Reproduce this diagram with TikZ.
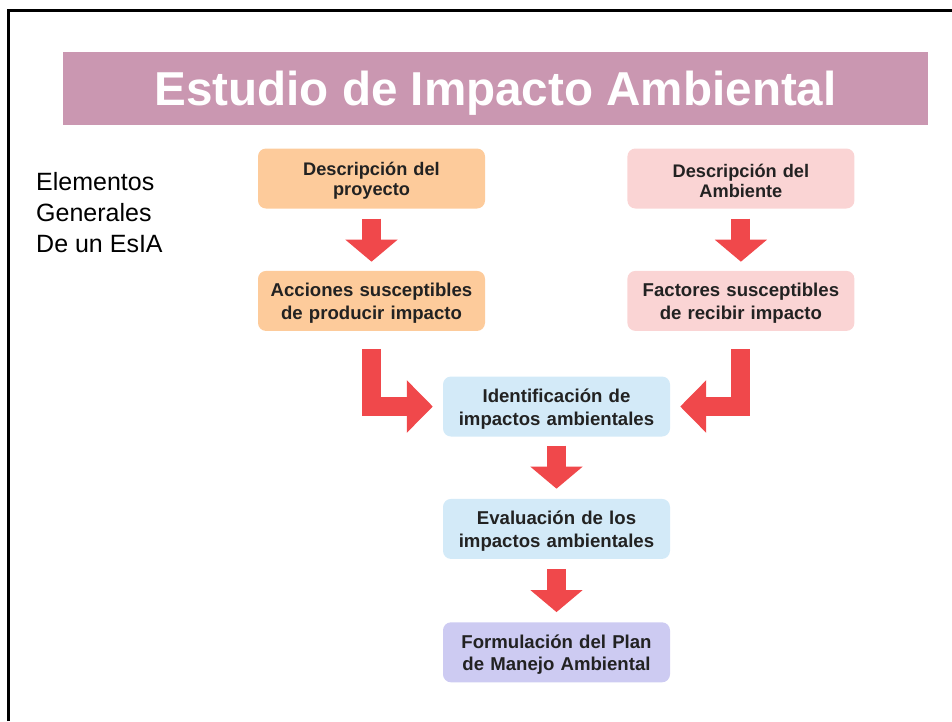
\documentclass[tikz,border=0pt]{standalone}
\usepackage{fontspec}
\setmainfont{Liberation Sans}
\usetikzlibrary{positioning,arrows.meta}
\definecolor{titlebar}{HTML}{CA97B1}
\definecolor{orangebox}{HTML}{FDCB9B}
\definecolor{pinkbox}{HTML}{FAD4D4}
\definecolor{bluebox}{HTML}{D3EAF8}
\definecolor{lilacbox}{HTML}{CDCBF2}
\definecolor{arrowred}{HTML}{F0484B}
\definecolor{boxtext}{HTML}{222222}

\begin{document}
\begin{tikzpicture}[x=1pt,y=-1pt,
    stepbox/.style={rounded corners=8pt, minimum width=227pt, minimum height=60pt,
      text width=220pt, align=center, inner sep=0pt, text=boxtext,
      font=\bfseries\fontsize{18.6}{22.5}\selectfont,
      execute at begin node={\rule{0pt}{18.4pt}}},
    topbox/.style={stepbox, font=\bfseries\fontsize{18.2}{20}\selectfont},
    bigarrow/.style={draw=arrowred, line width=19pt, line join=miter,
      -{Triangle[length=22pt,width=51pt]}}]
  \useasboundingbox (0,0) rectangle (952,721);
  \draw[line width=3pt] (8.7,721) -- (8.7,10.7) -- (952,10.7);
  \node[fill=titlebar, minimum width=865pt, minimum height=73pt, text=white,
    text depth=0pt, font=\bfseries\fontsize{47.6}{50}\selectfont] (title)
    at (495.5,88.5) {Estudio de Impacto Ambiental};
  \node[anchor=north west, align=left, inner sep=0pt,
    font=\fontsize{25}{31}\selectfont] (elementos) at (36,172)
    {Elementos\\Generales\\De un EsIA};
  % columna del proyecto y del ambiente
  \node[topbox, fill=orangebox] (descproy) at (371.5,178.5)
    {Descripción del\\proyecto};
  \node[stepbox, fill=orangebox, below=62pt of descproy] (acciones)
    {Acciones susceptibles\\de producir impacto};
  \node[topbox, fill=pinkbox, right=142pt of descproy] (descamb)
    {Descripción del\\Ambiente};
  \node[stepbox, fill=pinkbox, below=62pt of descamb] (factores)
    {Factores susceptibles\\de recibir impacto};
  % columna central
  \node[stepbox, fill=bluebox] (identif) at (556.5,406.5)
    {Identificación de\\impactos ambientales};
  \node[stepbox, fill=bluebox, below=62pt of identif] (evalua)
    {Evaluación de los\\impactos ambientales};
  \node[stepbox, fill=lilacbox, below=63pt of evalua] (plan)
    {Formulación del Plan\\de Manejo Ambiental};
  % flechas
  \draw[bigarrow, shorten <=10pt, shorten >=9pt] (descproy) -- (acciones);
  \draw[bigarrow, shorten <=10pt, shorten >=9pt] (descamb) -- (factores);
  \draw[bigarrow, -{Triangle[length=26pt,width=51pt]}, shorten <=18pt,
    shorten >=10pt] (acciones.south) -- (acciones.south |- identif.west)
    -- (identif.west);
  \draw[bigarrow, -{Triangle[length=26pt,width=51pt]}, shorten <=18pt,
    shorten >=10pt] (factores.south) -- (factores.south |- identif.east)
    -- (identif.east);
  \draw[bigarrow, shorten <=9pt, shorten >=10pt] (identif) -- (evalua);
  \draw[bigarrow, shorten <=10pt, shorten >=10pt] (evalua) -- (plan);
\end{tikzpicture}
\end{document}
